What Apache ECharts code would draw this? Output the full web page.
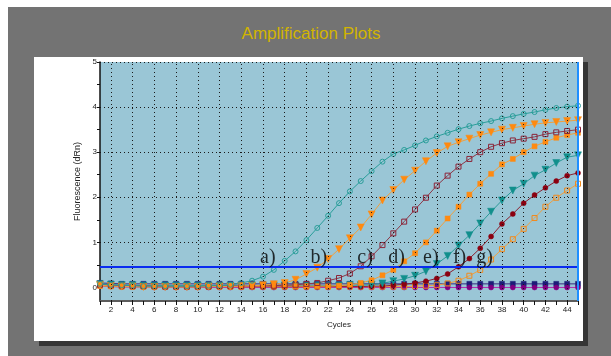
<!DOCTYPE html>
<html><head><meta charset="utf-8">
<script src="https://cdn.jsdelivr.net/npm/echarts@6/dist/echarts.min.js"></script>
<style>
html,body{margin:0;padding:0;background:#fff;}
#wrap{position:relative;width:611px;height:356px;overflow:hidden;}
#bg{position:absolute;left:8px;top:7px;width:603px;height:349px;background:#737373;}
#shadow{position:absolute;left:39px;top:62px;width:549px;height:284px;background:#363636;}
#panel{position:absolute;left:34px;top:57px;width:549px;height:284px;background:#fff;}
#title{position:absolute;left:0;top:24px;width:622px;text-align:center;font:17px "Liberation Sans",Arial,sans-serif;color:#d2b400;}
#chart{position:absolute;left:0;top:0;width:611px;height:356px;}
</style></head>
<body><div id="wrap"><div id="bg"></div><div id="shadow"></div><div id="panel"></div><div id="title">Amplification Plots</div><div id="chart"></div></div>
<script>
const cycles = [1,2,3,4,5,6,7,8,9,10,11,12,13,14,15,16,17,18,19,20,21,22,23,24,25,26,27,28,29,30,31,32,33,34,35,36,37,38,39,40,41,42,43,44,45];
const xLabelTicks = [2,4,6,8,10,12,14,16,18,20,22,24,26,28,30,32,34,36,38,40,42,44];
const yLabelTicks = [0,1,2,3,4,5];
const yMinorTicks = [0,0.5,1,1.5,2,2.5,3,3.5,4,4.5,5];
const yGridTicks = [1,2,3,4,5];
const threshold = 0.46;

const seriesA = [0.08,0.06,0.05,0.04,0.03,0.03,0.03,0.03,0.03,0.03,0.04,0.04,0.06,0.10,0.15,0.24,0.39,0.59,0.80,1.05,1.32,1.59,1.87,2.13,2.36,2.58,2.79,2.96,3.05,3.15,3.26,3.35,3.43,3.51,3.58,3.64,3.69,3.75,3.80,3.85,3.89,3.94,3.98,4.01,4.03];
const seriesB = [0.05,0.03,0.02,0.02,0.01,0.01,0.01,0.01,0.01,0.01,0.02,0.02,0.02,0.03,0.04,0.05,0.07,0.10,0.17,0.30,0.44,0.63,0.85,1.09,1.33,1.62,1.93,2.16,2.39,2.59,2.80,2.98,3.13,3.22,3.30,3.38,3.44,3.50,3.54,3.58,3.62,3.65,3.67,3.69,3.71];
const seriesC = [0.06,0.05,0.04,0.03,0.03,0.03,0.02,0.02,0.02,0.02,0.02,0.03,0.03,0.03,0.03,0.04,0.04,0.05,0.06,0.08,0.10,0.15,0.21,0.31,0.47,0.69,0.94,1.20,1.46,1.73,1.99,2.26,2.48,2.68,2.85,3.00,3.12,3.20,3.26,3.30,3.34,3.40,3.44,3.47,3.50];
const seriesD = [0.04,0.03,0.03,0.02,0.02,0.02,0.02,0.02,0.02,0.02,0.02,0.02,0.02,0.02,0.02,0.03,0.03,0.03,0.03,0.03,0.03,0.03,0.04,0.06,0.10,0.16,0.27,0.39,0.58,0.76,1.00,1.26,1.53,1.79,2.06,2.30,2.52,2.73,2.85,3.00,3.13,3.23,3.32,3.38,3.43];
const seriesE = [0.07,0.06,0.05,0.05,0.04,0.04,0.04,0.04,0.04,0.04,0.04,0.04,0.04,0.04,0.04,0.04,0.04,0.04,0.04,0.04,0.04,0.04,0.04,0.05,0.05,0.06,0.09,0.14,0.19,0.26,0.36,0.52,0.70,0.93,1.16,1.42,1.68,1.93,2.15,2.30,2.48,2.61,2.76,2.89,2.93];
const seriesF = [0.05,0.03,0.02,0.02,0.02,0.02,0.02,0.02,0.02,0.02,0.02,0.02,0.02,0.02,0.02,0.02,0.02,0.02,0.02,0.02,0.02,0.02,0.02,0.02,0.02,0.03,0.03,0.05,0.07,0.10,0.14,0.20,0.30,0.46,0.64,0.87,1.13,1.41,1.63,1.87,2.05,2.21,2.36,2.48,2.54];
const seriesG = [0.04,0.03,0.02,0.02,0.02,0.02,0.02,0.02,0.02,0.02,0.02,0.02,0.02,0.02,0.02,0.02,0.02,0.02,0.02,0.02,0.02,0.02,0.02,0.02,0.02,0.02,0.02,0.02,0.02,0.03,0.04,0.05,0.09,0.15,0.26,0.39,0.62,0.85,1.07,1.30,1.54,1.79,1.99,2.15,2.30];
const seriesNavy = [0.10,0.09,0.08,0.08,0.08,0.08,0.08,0.08,0.08,0.08,0.08,0.08,0.08,0.08,0.08,0.08,0.08,0.08,0.08,0.08,0.08,0.08,0.08,0.08,0.08,0.08,0.08,0.08,0.08,0.08,0.08,0.08,0.08,0.08,0.08,0.08,0.08,0.08,0.08,0.08,0.08,0.08,0.08,0.08,0.08];
const seriesPurple = [0.03,0.02,0.01,0.01,0.01,0.00,0.00,0.00,0.00,0.00,0.00,0.00,0.00,0.00,0.00,0.00,0.00,0.00,0.00,0.00,0.00,0.00,0.00,0.00,0.00,0.00,0.00,0.00,0.00,0.00,0.00,0.00,0.00,0.00,0.00,0.00,0.00,0.00,0.00,0.00,0.00,0.00,0.00,0.00,0.00];

const annotationTexts = ['a)','b)','c)','d)','e)','f)','g)'];
const annotationCycles = [16.45,21.15,25.4,28.3,31.45,34.1,36.4];
const annotationValues = [0.65,0.65,0.65,0.65,0.65,0.65,0.65];

const pairs = arr => cycles.map((c,i)=>[c,arr[i]]);

function curve(name, values, color, symbol, filled, rotate, lineColor) {
  return {
    name, type:'line', data: pairs(values),
    symbol, symbolSize: symbol==='triangle'?7:5, symbolRotate: rotate||0,
    showAllSymbol:true,
    lineStyle:{color: lineColor||color, width:1},
    itemStyle: filled ? {color: color, borderColor: color, borderWidth:0.5}
                      : {color:'rgba(0,0,0,0)', borderColor: color, borderWidth:1},
    animation:false, silent:true, z:3
  };
}

const gridLineStyle = {color:'#1a1a1a', type:[1,3], width:1};
const chart = echarts.init(document.getElementById('chart'), null, {renderer:'canvas'});
const axisFont = {fontFamily:'"Liberation Sans",Arial,sans-serif', fontSize:8, color:'#222'};
chart.setOption({
  animation:false,
  backgroundColor:'transparent',
  grid:{left:100, right:33, top:62, bottom:55, show:true, backgroundColor:'#9ac6d6', borderWidth:0},
  xAxis:{type:'value', min:1, max:45, interval:1,
     name:'Cycles', nameLocation:'middle', nameGap:20,
     nameTextStyle:{...axisFont, fontSize:8},
     axisLine:{show:true, onZero:false, lineStyle:{color:'#5c5c5c', width:2}},
     axisTick:{show:true, inside:false, length:4, lineStyle:{color:'#111', width:1}},
     axisLabel:{...axisFont, margin:5, formatter: v => (v%2===0 ? String(v) : '')},
     splitLine:{show:false}},
  yAxis:{type:'value', min:-0.3, max:5,
     name:'Fluorescence (dRn)', nameLocation:'middle', nameGap:11,
     nameTextStyle:{...axisFont, fontSize:9},
     axisLine:{show:true, onZero:false, lineStyle:{color:'#111', width:1.5}},
     axisTick:{show:true, inside:false, length:3, customValues:yMinorTicks, lineStyle:{color:'#111'}},
     axisLabel:{...axisFont, margin:3, customValues:yLabelTicks},
     splitLine:{show:false}},
  series:[
    {type:'line', data:[], silent:true, z:1,
     markLine:{silent:true, symbol:'none', label:{show:false}, animation:false,
       lineStyle:gridLineStyle,
       data: xLabelTicks.map(v=>({xAxis:v})).concat(yGridTicks.map(v=>({yAxis:v})))}},
    curve('navy', seriesNavy, '#1c1c78', 'rect', true, 0, '#3a2a80'),
    curve('purple', seriesPurple, '#800080', 'circle', true, 0, '#b030b0'),
    curve('g', seriesG, '#f08a1e', 'rect', false, 0, '#f0a040'),
    curve('f', seriesF, '#8b0010', 'circle', true, 0, '#8b2030'),
    curve('e', seriesE, '#118f8c', 'triangle', true, 180, '#2a9a98'),
    curve('d', seriesD, '#ff8a10', 'rect', true, 0, '#f0a040'),
    curve('c', seriesC, '#8c2438', 'rect', false, 0, '#8c3848'),
    curve('b', seriesB, '#ff8a10', 'triangle', true, 180, '#f0a040'),
    curve('a', seriesA, '#2a9e9a', 'circle', false, 0, '#2a9e9a'),
    {type:'line', data:[], silent:true, z:4,
     markLine:{silent:true, symbol:'none', label:{show:false}, animation:false,
       data:[
         {yAxis: threshold, lineStyle:{color:'#0a2cf0', width:2, type:'solid'}},
         {xAxis: cycles[cycles.length-1], lineStyle:{color:'#1e8fff', width:2, type:'solid'}}
       ]}},
    {type:'scatter', silent:true, z:10,
     symbolSize:0,
     data: annotationTexts.map((t,i)=>({name:t, value:[annotationCycles[i], annotationValues[i]]})),
     label:{show:true, position:'inside', formatter: p => p.name,
       fontFamily:'"Liberation Serif","Times New Roman",serif', fontSize:20, color:'#000'}}
  ]
});
</script>
</body></html>
